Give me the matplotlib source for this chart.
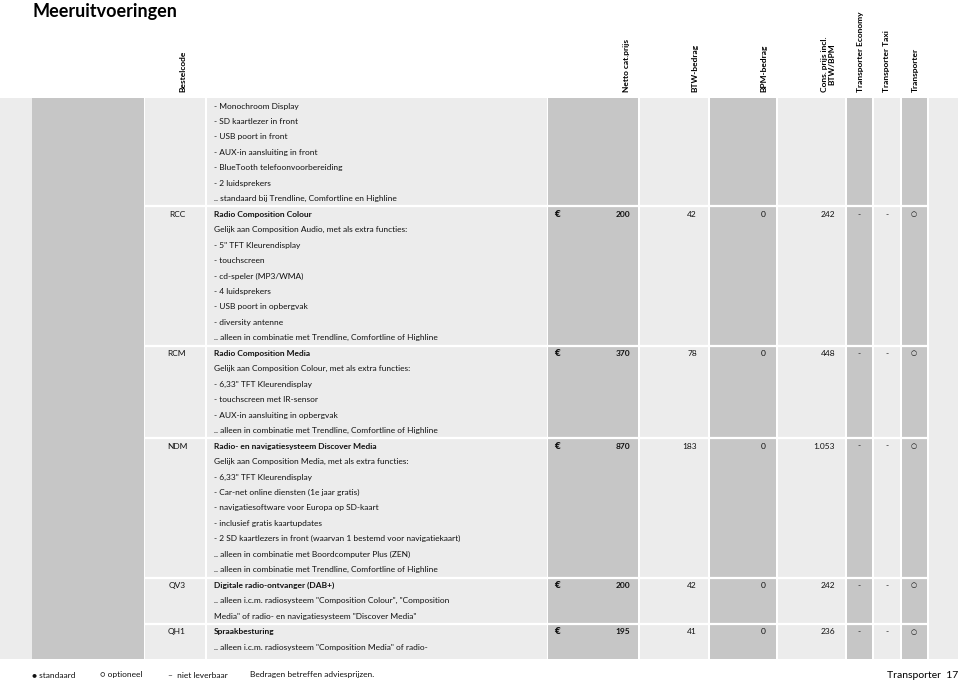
import matplotlib
matplotlib.use("Agg")
import matplotlib.pyplot as plt
from matplotlib.patches import Rectangle

plt.rcParams['font.family'] = ['Lato', 'DejaVu Sans']

# ---------------- data ----------------
title = "Meeruitvoeringen"
header_labels = ["Bestelcode", "Netto cat.prijs", "BTW-bedrag", "BPM-bedrag",
                 "Cons. prijs incl.\nBTW/BPM", "Transporter Economy",
                 "Transporter Taxi", "Transporter"]

codes = ["", "RCC", "RCM", "NDM", "QV3", "QH1"]
item_titles = [None,
               "Radio Composition Colour",
               "Radio Composition Media",
               "Radio- en navigatiesysteem Discover Media",
               "Digitale radio-ontvanger (DAB+)",
               "Spraakbesturing"]
item_lines = [
    ["- Monochroom Display", "- SD kaartlezer in front", "- USB poort in front",
     "- AUX-in aansluiting in front", "- BlueTooth telefoonvoorbereiding",
     "- 2 luidsprekers", ".. standaard bij Trendline, Comfortline en Highline"],
    ["Gelijk aan Composition Audio, met als extra functies:",
     "- 5\" TFT Kleurendisplay", "- touchscreen", "- cd-speler (MP3/WMA)",
     "- 4 luidsprekers", "- USB poort in opbergvak", "- diversity antenne",
     ".. alleen in combinatie met Trendline, Comfortline of Highline"],
    ["Gelijk aan Composition Colour, met als extra functies:",
     "- 6,33\" TFT Kleurendisplay", "- touchscreen met IR-sensor",
     "- AUX-in aansluiting in opbergvak",
     ".. alleen in combinatie met Trendline, Comfortline of Highline"],
    ["Gelijk aan Composition Media, met als extra functies:",
     "- 6,33\" TFT Kleurendisplay", "- Car-net online diensten (1e jaar gratis)",
     "- navigatiesoftware voor Europa op SD-kaart",
     "- inclusief gratis kaartupdates",
     "- 2 SD kaartlezers in front (waarvan 1 bestemd voor navigatiekaart)",
     ".. alleen in combinatie met Boordcomputer Plus (ZEN)",
     ".. alleen in combinatie met Trendline, Comfortline of Highline"],
    [".. alleen i.c.m. radiosysteem \"Composition Colour\", \"Composition",
     "Media\" of radio- en navigatiesysteem \"Discover Media\""],
    [".. alleen i.c.m. radiosysteem \"Composition Media\" of radio-"],
]
netto = [None, "200", "370", "870", "200", "195"]
btw = [None, "42", "78", "183", "42", "41"]
bpm = [None, "0", "0", "0", "0", "0"]
cons = [None, "242", "448", "1.053", "242", "236"]
economy = [None, "-", "-", "-", "-", "-"]
taxi = [None, "-", "-", "-", "-", "-"]
transporter = [None, "○", "○", "○", "○", "○"]

legend_items = ["● standaard", "○ optioneel", "–  niet leverbaar",
                "Bedragen betreffen adviesprijzen."]
footer = "Transporter  17"

# ---------------- layout ----------------
W, H = 960, 681
fig = plt.figure(figsize=(9.6, 6.81), dpi=100)
ax = fig.add_axes([0, 0, 1, 1])
ax.set_xlim(0, W)
ax.set_ylim(H, 0)
ax.axis("off")

LIGHT = "#ececec"
DARK = "#c6c6c6"
TXT = "#111111"
FS = 6.0

top, bottom = 98, 659
cols = [(0, 32, LIGHT), (32, 144, DARK), (145, 205, LIGHT), (207, 547, LIGHT),
        (548, 638, DARK), (640, 708, LIGHT), (710, 776, DARK), (778, 845, LIGHT),
        (847, 872, DARK), (874, 900, LIGHT), (902, 927, DARK), (929, 958, LIGHT)]
for x0, x1, c in cols:
    ax.add_patch(Rectangle((x0, top), x1 - x0, bottom - top, color=c, lw=0))

ax.text(32, 3, title, fontsize=13, fontweight="bold", va="top", ha="left",
        color="black")

hx = [183, 626, 695, 764, 828, 860, 887, 915]
for x, lab in zip(hx, header_labels):
    ax.text(x, 92, lab, rotation=90, fontsize=FS, fontweight="bold",
            ha="center", va="bottom", color="black", linespacing=1.0)

y0 = 106
dy = 15.46
line = 0
for i, code in enumerate(codes):
    if i > 0:
        sep = y0 + dy * line - dy / 2
        ax.plot([144, 928], [sep, sep], color="white", lw=1.6,
                solid_capstyle="butt")
    if item_titles[i] is not None:
        y = y0 + dy * line
        ax.text(177, y, code, fontsize=FS, ha="center", va="center", color=TXT)
        ax.text(214, y, item_titles[i], fontsize=FS, fontweight="bold",
                ha="left", va="center", color=TXT)
        ax.text(554, y, "€", fontsize=FS, fontweight="bold", ha="left",
                va="center", color=TXT, family=["DejaVu Sans"])
        ax.text(630, y, netto[i], fontsize=FS, fontweight="bold", ha="right",
                va="center", color=TXT)
        ax.text(697, y, btw[i], fontsize=FS, ha="right", va="center", color=TXT)
        ax.text(766, y, bpm[i], fontsize=FS, ha="right", va="center", color=TXT)
        ax.text(835, y, cons[i], fontsize=FS, ha="right", va="center", color=TXT)
        ax.text(859, y, economy[i], fontsize=FS, ha="center", va="center", color=TXT)
        ax.text(887, y, taxi[i], fontsize=FS, ha="center", va="center", color=TXT)
        ax.text(914, y, transporter[i], fontsize=5, ha="center", va="center",
                color=TXT, family=["DejaVu Sans"])
        line += 1
    for t in item_lines[i]:
        y = y0 + dy * line
        ax.text(214, y, t, fontsize=FS, ha="left", va="center", color=TXT)
        line += 1

lx = [32, 100, 168, 250]
for x, t in zip(lx, legend_items):
    ax.text(x, 675, t, fontsize=FS, ha="left", va="center", color=TXT,
            family=["Lato", "DejaVu Sans"])
ax.text(958, 675, footer, fontsize=7.5, ha="right", va="center", color="black")

fig.savefig("out.png", dpi=100)
